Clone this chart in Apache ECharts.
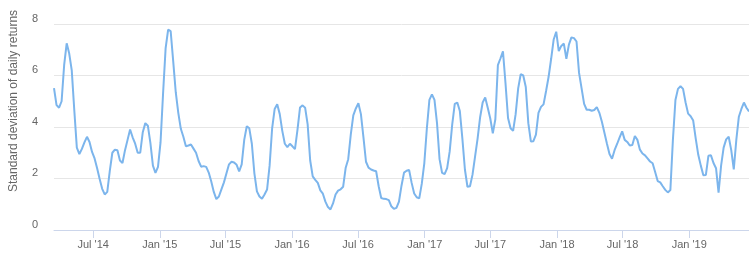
<!DOCTYPE html>
<html>
<head>
<meta charset="utf-8">
<script src="https://cdn.jsdelivr.net/npm/echarts@6/dist/echarts.min.js"></script>
<style>
html,body{margin:0;padding:0;background:#fff;}
#chart{width:749px;height:257px;}
</style>
</head>
<body>
<div id="chart"></div>
<script>
// Weekly observations starting 2014-03-15
const startDate = '2014-03-15';
const endDate = '2019-06-15';
const stdDev = [
5.51,4.85,4.75,5.0,6.4,7.25,6.85,6.2,4.65,3.2,
2.95,3.15,3.4,3.62,3.42,3.03,2.78,2.40,1.98,1.6,
1.38,1.48,2.3,3.0,3.12,3.1,2.7,2.6,3.1,3.5,
3.9,3.6,3.35,3.0,3.0,3.8,4.15,4.05,3.38,2.5,
2.22,2.45,3.4,5.3,7.05,7.78,7.72,6.55,5.35,4.55,
3.93,3.62,3.25,3.28,3.32,3.16,3.0,2.68,2.46,2.48,
2.45,2.23,1.88,1.48,1.2,1.3,1.58,1.85,2.2,2.55,
2.65,2.62,2.53,2.28,2.55,3.5,4.03,3.95,3.35,2.2,
1.5,1.3,1.21,1.38,1.57,2.5,3.95,4.7,4.88,4.5,
3.85,3.35,3.22,3.35,3.25,3.14,3.9,4.76,4.84,4.75,
4.1,2.7,2.08,1.95,1.83,1.54,1.41,1.1,0.89,0.8,
1.03,1.38,1.53,1.58,1.68,2.42,2.75,3.7,4.45,4.72,
4.92,4.5,3.6,2.65,2.42,2.35,2.31,2.28,1.7,1.24,
1.21,1.2,1.16,0.92,0.82,0.86,1.1,1.72,2.23,2.3,
2.33,1.83,1.42,1.27,1.23,1.8,2.6,3.95,5.05,5.27,
5.05,4.15,2.75,2.22,2.17,2.4,3.05,4.1,4.9,4.95,
4.62,3.55,2.35,1.68,1.7,2.15,2.85,3.55,4.38,4.95,
5.15,4.75,4.33,3.75,4.3,6.4,6.66,6.94,5.7,4.35,
3.95,3.85,4.5,5.5,6.05,6.0,5.55,4.15,3.44,3.45,
3.7,4.55,4.78,4.88,5.4,5.95,6.65,7.4,7.7,6.95,
7.15,7.24,6.65,7.2,7.48,7.45,7.32,6.1,5.5,4.9,
4.67,4.67,4.63,4.66,4.77,4.55,4.2,3.78,3.35,2.95,
2.77,3.1,3.34,3.6,3.83,3.5,3.42,3.28,3.3,3.65,
3.5,3.12,2.97,2.9,2.78,2.66,2.59,2.25,1.9,1.85,
1.7,1.56,1.46,1.55,3.5,5.05,5.48,5.58,5.48,4.95,
4.52,4.42,4.25,3.55,2.92,2.5,2.13,2.14,2.88,2.9,
2.6,2.4,1.45,2.5,3.2,3.52,3.62,3.1,2.35,3.5,
4.4,4.7,4.95,4.75,4.6
];
const yTicks = [0, 2, 4, 6, 8];
const monthNames = ['Jan','Feb','Mar','Apr','May','Jun','Jul','Aug','Sep','Oct','Nov','Dec'];
const yTitle = 'Standard deviation of daily returns';

const t0 = new Date(startDate + 'T00:00:00Z').getTime();
const WEEK = 7 * 24 * 3600 * 1000;
const seriesData = stdDev.map((v, i) => [t0 + i * WEEK, v]);

const chart = echarts.init(document.getElementById('chart'), null, {renderer: 'canvas'});
chart.setOption({
  animation: false,
  textStyle: {fontFamily: 'Liberation Sans, Arial, sans-serif'},
  grid: {left: 54, right: 0, top: 24, bottom: 27, containLabel: false},
  xAxis: {
    type: 'time',
    min: t0,
    max: new Date(endDate + 'T00:00:00Z').getTime(),
    splitNumber: 10,
    axisLine: {lineStyle: {color: '#ccd6eb', width: 1}},
    axisTick: {show: true, length: 8, lineStyle: {color: '#ccd6eb'}},
    splitLine: {show: false},
    axisLabel: {
      color: '#666666', fontSize: 11, margin: 9,
      showMinLabel: false, showMaxLabel: false,
      formatter: function (val) {
        const d = new Date(val);
        return monthNames[d.getUTCMonth()] + " '" + String(d.getUTCFullYear()).slice(2);
      }
    }
  },
  yAxis: {
    type: 'value',
    min: yTicks[0], max: yTicks[yTicks.length - 1], interval: 2,
    axisLine: {show: false},
    axisTick: {show: false},
    splitLine: {lineStyle: {color: '#e6e6e6', width: 1}},
    axisLabel: {color: '#666666', fontSize: 11, margin: 16, verticalAlign: 'bottom'}
  },
  graphic: [{
    type: 'text',
    x: 14, y: 101,
    rotation: Math.PI / 2,
    style: {
      text: yTitle, fill: '#666666', fontSize: 12,
      fontFamily: 'Liberation Sans, Arial, sans-serif',
      align: 'center', verticalAlign: 'middle'
    }
  }],
  series: [{
    type: 'line',
    data: seriesData,
    symbol: 'none',
    lineStyle: {color: '#7cb5ec', width: 2},
    itemStyle: {color: '#7cb5ec'}
  }]
});
</script>
</body>
</html>
